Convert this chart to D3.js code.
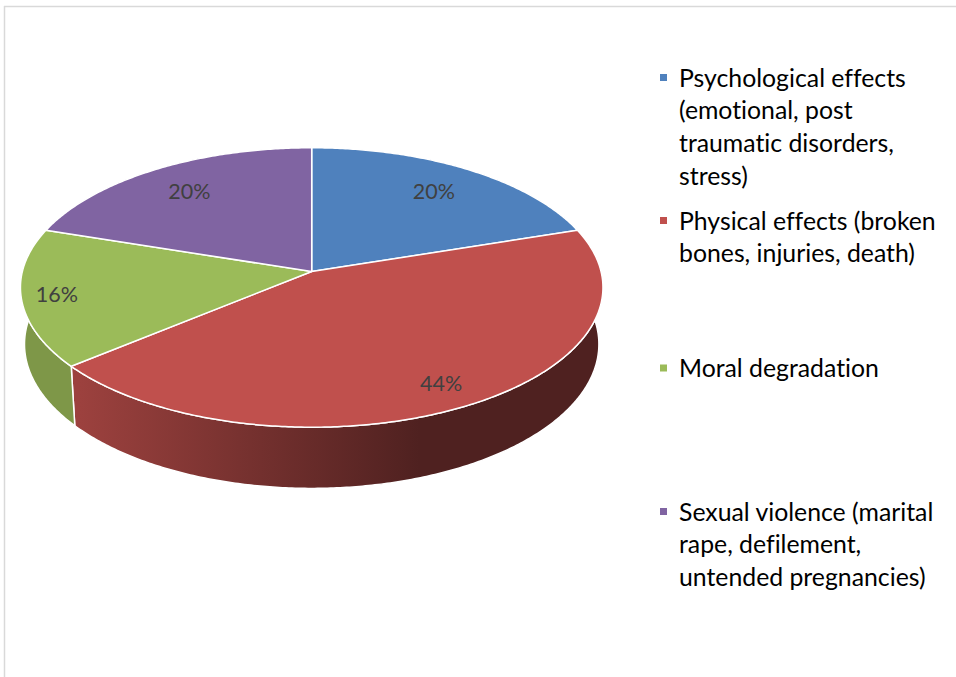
<!DOCTYPE html>
<html>
<head>
<meta charset="utf-8">
<script src="https://cdn.jsdelivr.net/npm/d3@7"></script>
<style>
  html, body { margin: 0; padding: 0; background: #ffffff; }
  svg { display: block; }
  text { font-variant-ligatures: none; }
</style>
</head>
<body>
<svg id="chart" width="956" height="677"></svg>
<script>
// Consequences of domestic violence: share of responses per category
const categories = [
  "Psychological effects (emotional, post traumatic disorders, stress)",
  "Physical effects (broken bones, injuries, death)",
  "Moral degradation",
  "Sexual violence (marital rape, defilement, untended pregnancies)"
];
const values = [20, 44, 16, 20];
const legendLines = [
  ["Psychological effects", "(emotional, post", "traumatic disorders,", "stress)"],
  ["Physical effects (broken", "bones, injuries, death)"],
  ["Moral degradation"],
  ["Sexual violence (marital", "rape, defilement,", "untended pregnancies)"]
];
const colors = ["#4f81bd", "#c0504d", "#9bbb59", "#8064a2"];

// layout
const W = 956, H = 677;
const CX = 311.7, CY = 271.5;     // projected pie centre
const DIST = 7.69;                // camera distance (in pie radii)
const FOCAL = 2225;               // focal length in px
const PHI = Math.asin(0.4766);    // elevation of the view
const THICK = 0.225;              // pie thickness (in pie radii)
const labelRadius = [0.77, 0.85, 0.88, 0.77];
const legendBaselines = [86.5, 229.5, 377, 520.5];
const legendLineHeight = 32.7;
const legendX = 660, legendTextX = 679;

const svg = d3.select("#chart");

// frame
svg.append("line").attr("x1", 4).attr("x2", W).attr("y1", 6.5).attr("y2", 6.5)
  .attr("stroke", "#d9d9d9").attr("stroke-width", 1.5);
svg.append("line").attr("x1", 4.5).attr("x2", 4.5).attr("y1", 6).attr("y2", H)
  .attr("stroke", "#d9d9d9").attr("stroke-width", 1.5);

// perspective projection of a point on the pie (angle clockwise from the far side)
function project(theta, rho, y) {
  const X = rho * Math.sin(theta);
  const Z = -rho * Math.cos(theta);
  const yc = Z * Math.sin(PHI) - y * Math.cos(PHI);
  const d = DIST - Z * Math.cos(PHI) - y * Math.sin(PHI);
  return [CX + FOCAL * X / d, CY + FOCAL * yc / d];
}
function arcPoints(a0, a1, rho, y) {
  const n = Math.max(2, Math.ceil((a1 - a0) / 0.01));
  return d3.range(n + 1).map(i => project(a0 + (a1 - a0) * i / n, rho, y));
}

const pie = d3.pie().sort(null).value(d => d);
const arcs = pie(values);
const total = d3.sum(values);
const pct = d3.format(".0%");
const line = d3.line();

// side shading: horizontal light falloff from left to right
const defs = svg.append("defs");
colors.forEach((c, i) => {
  const base = d3.rgb(c);
  const shade = f => d3.rgb(base.r * f, base.g * f, base.b * f).formatHex();
  const g = defs.append("linearGradient").attr("id", "side" + i)
    .attr("gradientUnits", "userSpaceOnUse")
    .attr("x1", 80).attr("x2", 420).attr("y1", 0).attr("y2", 0);
  g.append("stop").attr("offset", 0).attr("stop-color", shade(0.81));
  g.append("stop").attr("offset", 1).attr("stop-color", shade(0.41));
});

// outer walls first
const walls = svg.append("g");
arcs.forEach((a, i) => {
  const top = arcPoints(a.startAngle, a.endAngle, 1, 0);
  const bottom = arcPoints(a.startAngle, a.endAngle, 1, -THICK).reverse();
  walls.append("path")
    .attr("d", line(top.concat(bottom)) + "Z")
    .attr("fill", `url(#side${i})`)
    .attr("stroke", "#ffffff").attr("stroke-width", 1.5)
    .attr("stroke-linejoin", "round");
});

// top faces
const tops = svg.append("g");
arcs.forEach((a, i) => {
  const pts = [project(0, 0, 0)].concat(arcPoints(a.startAngle, a.endAngle, 1, 0));
  tops.append("path")
    .attr("d", line(pts) + "Z")
    .attr("fill", colors[i])
    .attr("stroke", "#ffffff").attr("stroke-width", 1.5)
    .attr("stroke-linejoin", "round");
});

// data labels
const labelFont = "Lato, 'Open Sans', sans-serif";
arcs.forEach((a, i) => {
  const mid = (a.startAngle + a.endAngle) / 2;
  const p = project(mid, labelRadius[i], 0);
  svg.append("text")
    .attr("x", p[0]).attr("y", p[1] + 7.5)
    .attr("text-anchor", "middle")
    .attr("font-family", labelFont).attr("font-size", 21.5)
    .attr("fill", "#404040")
    .text(pct(a.data / total));
});

// legend
const legend = svg.append("g");
legendLines.forEach((lines, i) => {
  const y0 = legendBaselines[i];
  legend.append("rect")
    .attr("x", legendX).attr("y", y0 - 12.5).attr("width", 7).attr("height", 7)
    .attr("fill", colors[i]);
  const t = legend.append("text")
    .attr("font-family", labelFont).attr("font-size", 24.8)
    .attr("fill", "#000000");
  lines.forEach((ln, j) => {
    t.append("tspan").attr("x", legendTextX).attr("y", y0 + j * legendLineHeight).text(ln);
  });
  t.append("title").text(categories[i]);
});
</script>
</body>
</html>
